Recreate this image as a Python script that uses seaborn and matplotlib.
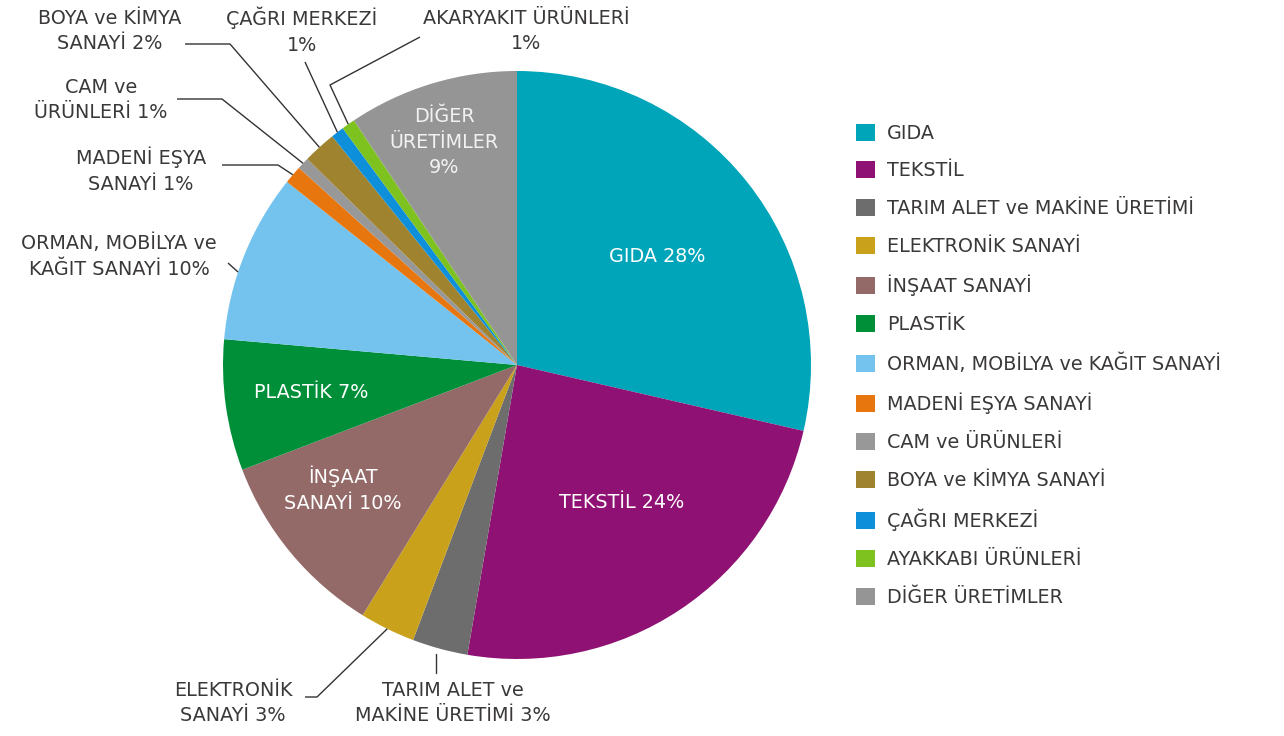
import numpy as np
import matplotlib
matplotlib.use("Agg")
import matplotlib.pyplot as plt
import seaborn as sns

# ---- data ----
categories = ["GIDA", "TEKSTİL", "TARIM ALET ve MAKİNE ÜRETİMİ", "ELEKTRONİK SANAYİ",
              "İNŞAAT SANAYİ", "PLASTİK", "ORMAN, MOBİLYA ve KAĞIT SANAYİ",
              "MADENİ EŞYA SANAYİ", "CAM ve ÜRÜNLERİ", "BOYA ve KİMYA SANAYİ",
              "ÇAĞRI MERKEZİ", "AYAKKABI ÜRÜNLERİ", "DİĞER ÜRETİMLER"]
shares = [28.6, 24.1, 3.05, 3.05, 10.4, 7.2, 9.3, 1.0, 0.66, 1.82, 0.72, 0.74, 9.36]
slice_labels = ["GIDA 28%", "TEKSTİL 24%", "TARIM ALET ve\nMAKİNE ÜRETİMİ 3%",
                "ELEKTRONİK\nSANAYİ 3%", "İNŞAAT\nSANAYİ 10%", "PLASTİK 7%",
                "ORMAN, MOBİLYA ve\nKAĞIT SANAYİ 10%", "MADENİ EŞYA\nSANAYİ 1%",
                "CAM ve\nÜRÜNLERİ 1%", "BOYA ve KİMYA\nSANAYİ 2%", "ÇAĞRI MERKEZİ\n1%",
                "AKARYAKIT ÜRÜNLERİ\n1%", "DİĞER\nÜRETİMLER\n9%"]
colors = ["#00A5B9", "#8E1173", "#6D6D6D", "#C9A11B", "#946A69", "#008F39",
          "#73C3EE", "#E8760E", "#989898", "#A0832E", "#0D8FDA", "#7DC21F", "#959595"]

# ---- style ----
sns.set_theme(style="white")
plt.rcParams['font.family'] = ['DejaVu Sans']
TXT = "#3b3838"
FS = 13.8
LS = 1.46

W, H = 1284, 736
CX, CY, R = 517, 365, 294
fig = plt.figure(figsize=(W / 100, H / 100), dpi=100)
ax = fig.add_axes([0, 0, 1, 1])

def P(x, y):
    """image pixel coords -> data coords (pie centre at origin)"""
    return x - CX, CY - y

palette = sns.color_palette(colors)
wedges, _ = ax.pie(shares, colors=palette, startangle=90, counterclock=False,
                   radius=R, center=(0, 0), wedgeprops=dict(linewidth=0))
ax.set_xlim(-CX, W - CX)
ax.set_ylim(CY - H, CY)
ax.set_aspect('equal')
ax.axis('off')

def anchor(i, frac=0.5, rr=1.0):
    w = wedges[i]
    th = np.deg2rad(w.theta1 + frac * (w.theta2 - w.theta1))
    return R * rr * np.cos(th), R * rr * np.sin(th)

# ---- inside labels ----
inside = {0: (657, 256), 1: (622, 503), 5: (311, 393), 4: (343, 489), 12: (444, 142)}
for i, (x, y) in inside.items():
    col = "#f2f2f2" if i == 12 else "white"
    ax.text(*P(x, y), slice_labels[i], color=col, fontsize=FS, ha='center', va='center',
            linespacing=LS)

# ---- outside labels with leader lines ----
outside = {
    9: ((110, 31), [(185, 44), (230, 44)], 0.5, 1.0),
    10: ((302, 31), [(305, 62)], 0.5, 1.0),
    11: ((526, 31), [(420, 37), (330, 85)], 0.5, 1.0),
    8: ((101, 100), [(177, 99), (222, 99)], 0.5, 1.0),
    7: ((141, 170), [(222, 165), (278, 165)], 0.5, 1.0),
    6: ((119, 256), [(228, 263)], 0.6, 1.0),
    3: ((233, 703), [(305, 697), (317, 697)], 0.5, 1.0),
}
for i, ((tx, ty), pts, frac, rr) in outside.items():
    ax.text(*P(tx, ty), slice_labels[i], color=TXT, fontsize=FS, ha='center', va='center',
            linespacing=LS)
    path = [P(*p) for p in pts] + [anchor(i, frac, rr)]
    xs, ys = zip(*path)
    ax.plot(xs, ys, color="#333333", lw=1.0, solid_capstyle='butt')

# TARIM: vertical leader
ax.text(*P(453, 703), slice_labels[2], color=TXT, fontsize=FS, ha='center', va='center',
        linespacing=LS)
ax_, ay_ = anchor(2, 0.45, 1.02)
ax.plot([ax_, ax_], [ay_, P(0, 673)[1]], color="#333333", lw=1.0)

# ---- legend ----
leg = ax.legend(wedges, categories, loc='upper left',
                bbox_to_anchor=P(856, 123.5), bbox_transform=ax.transData,
                frameon=False, fontsize=FS, handlelength=0.99, handleheight=0.99,
                handletextpad=0.62, labelspacing=0.98, borderpad=0, borderaxespad=0)
for t in leg.get_texts():
    t.set_color(TXT)

fig.savefig("out.png", dpi=100, facecolor="white")
